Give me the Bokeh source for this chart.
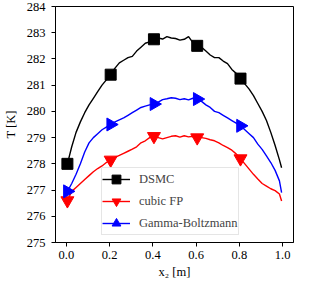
from bokeh.plotting import figure
from bokeh.models import Range1d, FixedTicker, Legend, LegendItem
from bokeh.embed import file_html
from bokeh.resources import INLINE

x2 = [0.005, 0.025, 0.045, 0.065, 0.085, 0.105, 0.125, 0.145, 0.165, 0.185,
      0.205, 0.225, 0.245, 0.265, 0.285, 0.305, 0.325, 0.345, 0.365, 0.385,
      0.405, 0.425, 0.445, 0.465, 0.485, 0.505, 0.525, 0.545, 0.565, 0.585,
      0.605, 0.625, 0.645, 0.665, 0.685, 0.705, 0.725, 0.745, 0.765, 0.785,
      0.805, 0.825, 0.845, 0.865, 0.885, 0.905, 0.925, 0.945, 0.965, 0.985,
      0.995]

T_dsmc = [278.0, 278.65, 279.2, 279.6, 279.95, 280.25, 280.5, 280.75, 281.0, 281.2,
          281.4, 281.65, 281.85, 281.95, 282.05, 282.1, 282.3, 282.45, 282.6, 282.65,
          282.75, 282.8, 282.76, 282.85, 282.8, 282.78, 282.72, 282.75, 282.85, 282.62,
          282.5, 282.45, 282.3, 282.15, 282.05, 282.05, 281.92, 281.82, 281.6, 281.45,
          281.25, 281.05, 280.85, 280.6, 280.3, 280.0, 279.65, 279.2, 278.7, 278.15,
          277.85]

T_cubic = [276.6, 276.95, 277.1, 277.25, 277.4, 277.55, 277.7, 277.82, 277.92, 278.05,
           278.15, 278.25, 278.32, 278.4, 278.48, 278.56, 278.65, 278.8, 278.88, 279.0,
           279.05, 279.0, 278.95, 279.0, 279.05, 279.07, 279.02, 279.07, 279.03, 279.05,
           279.0, 279.0, 278.97, 278.92, 278.88, 278.8, 278.7, 278.62, 278.52, 278.38,
           278.2, 278.0, 277.8, 277.6, 277.42, 277.25, 277.15, 277.05, 276.98, 276.85,
           276.58]

T_gamma = [276.95, 277.25, 277.6, 278.0, 278.45, 278.8, 279.0, 279.15, 279.3, 279.4,
           279.5, 279.6, 279.68, 279.75, 279.85, 279.95, 280.05, 280.15, 280.2, 280.25,
           280.28, 280.35, 280.45, 280.48, 280.52, 280.5, 280.45, 280.48, 280.44, 280.5,
           280.47, 280.38, 280.25, 280.15, 280.0, 279.95, 279.85, 279.75, 279.65, 279.55,
           279.45, 279.3, 279.15, 279.0, 278.75, 278.55, 278.3, 278.05, 277.75, 277.35,
           276.9]

mark_every = 10
x_ticks = [0.0, 0.2, 0.4, 0.6, 0.8, 1.0]
y_ticks = [275, 276, 277, 278, 279, 280, 281, 282, 283, 284]
labels = ["DSMC", "cubic FP", "Gamma-Boltzmann"]

FONT = "Liberation Serif"

p = figure(width=295, height=283, output_backend="svg", toolbar_location=None,
           x_range=Range1d(-0.05, 1.05), y_range=Range1d(275, 284),
           min_border_left=49, min_border_right=2, min_border_top=6, min_border_bottom=41)
p.grid.visible = False
p.outline_line_color = "black"
p.outline_line_width = 1
p.background_fill_color = "white"
p.border_fill_color = "white"

for ax in (p.xaxis, p.yaxis):
    ax.axis_line_color = "black"
    ax.major_tick_in = 0
    ax.major_tick_out = 4
    ax.minor_tick_line_color = None
    ax.major_label_text_font = FONT
    ax.major_label_text_font_size = "12.5px"
    ax.major_label_text_color = "black"
    ax.axis_label_text_font = FONT
    ax.axis_label_text_font_size = "12.5px"
    ax.axis_label_text_font_style = "normal"
    ax.axis_label_text_color = "black"

p.xaxis.ticker = FixedTicker(ticks=x_ticks)
p.xaxis.major_label_overrides = {t: f"{t:.1f}" for t in x_ticks}
p.yaxis.ticker = FixedTicker(ticks=y_ticks)
p.xaxis.axis_label = "x\u2082 [m]"
p.yaxis.axis_label = "T [K]"
p.xaxis.major_label_standoff = 4
p.yaxis.major_label_standoff = 6
p.xaxis.axis_label_standoff = 3
p.yaxis.axis_label_standoff = 6

series = [
    (T_dsmc, "black", "square", 11),
    (T_cubic, "red", "inverted_triangle", 13),
    (T_gamma, "blue", "triangle", 13),
]

items = []
for (T, color, marker, size), lab in zip(series, labels):
    lr = p.line(x2, T, line_color=color, line_width=1.4)
    mx = x2[::mark_every][:5]
    my = T[::mark_every][:5]
    if marker == "triangle":
        mr = p.scatter(mx, my, marker="triangle", size=size, angle=-1.5708,
                       fill_color=color, line_color=color)
    else:
        mr = p.scatter(mx, my, marker=marker, size=size, fill_color=color, line_color=color)
    items.append(LegendItem(label=lab, renderers=[lr, mr]))

legend = Legend(items=items, location=(46, 7), padding=0, spacing=-4,
                label_height=22, glyph_height=22, glyph_width=28, label_standoff=9,
                label_text_font=FONT, label_text_font_size="12.5px",
                border_line_color="#cccccc", border_line_width=1,
                background_fill_alpha=0.8, margin=0)
p.add_layout(legend, "center")

open("out.html", "w").write(file_html(p, INLINE))
